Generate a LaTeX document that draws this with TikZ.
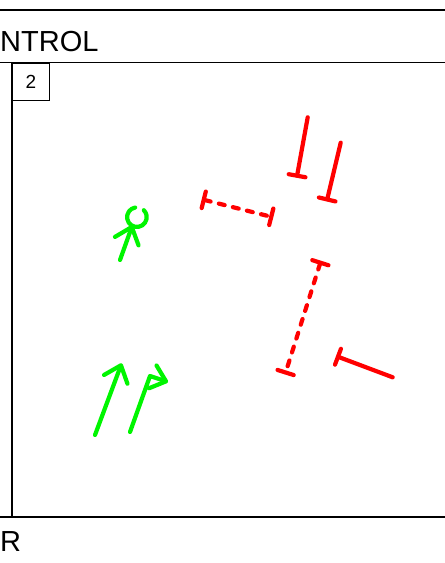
\documentclass[tikz,border=0pt]{standalone}
\usepackage{fontspec}
\setmainfont{Liberation Sans}
\usepackage{xcolor}
\usepackage{tikz}
\usetikzlibrary{arrows.meta}

\definecolor{verdeLapiz}{RGB}{0,245,0}
\definecolor{rojoLapiz}{RGB}{255,0,0}

\begin{document}
\begin{tikzpicture}[x=1pt, y=-1pt,
        marco/.style={line width=1.6pt, black},
        trazoverde/.style={verdeLapiz, line width=4.2pt, line cap=round, line join=round},
        trazorojo/.style={rojoLapiz, line width=4.2pt, line cap=round, line join=round}]
        \useasboundingbox (0,0) rectangle (445,563);
        \clip (0,0) rectangle (445,563);

        % Marco de la hoja
        \draw[marco] (0,10) -- (445,10);
        \draw[marco] (0,62.5) -- (445,62.5);
        \draw[marco] (0,516.7) -- (445,516.7);
        \draw[marco] (11.7,62.5) -- (11.7,516.7);
        \node[anchor=base west, inner sep=0, font=\fontsize{29}{34}\selectfont] (titulo) at (0,51.7) {NTROL};
        \node[anchor=base west, inner sep=0, font=\fontsize{29}{34}\selectfont] (pie) at (0,551.7) {R};
        \node[draw, line width=1.2pt, anchor=north west, inner sep=0, minimum width=37.3pt, minimum height=37.5pt,
              font=\fontsize{19}{22}\selectfont] (numero) at (11.7,62.5) {2};

        % Flechas verdes
        \draw[trazoverde, -{Straight Barb[length=15pt, width=25pt, round]}] (120,260) -- (132.5,225);
        \draw[trazoverde] (135.2,207.5) arc[start angle=100, end angle=405, radius=9.8pt];
        \draw[trazoverde, -{Straight Barb[length=15pt, width=25pt, round]}] (95,435) -- (121.7,363.3);
        \draw[trazoverde, -{Straight Barb[length=14pt, width=24pt, round]}] (130,432) -- (150,376) -- (168,382);

        % Trazos rojos con tope
        \foreach \xa/\ya/\xb/\yb in {
            307.7/117.3/296.7/177.8,
            340.7/142.7/326.7/201.5,
            392.7/377.3/336/356
        } {
            \draw[trazorojo, -{Bar[width=17pt, round]}] (\xa,\ya) -- (\xb,\yb);
        }

        % Trazos rojos discontinuos
        \foreach \xa/\ya/\xb/\yb in {
            201.7/199.3/273.3/217.3,
            321/260.7/285/374.5
        } {
            \draw[trazorojo, dash pattern=on 6pt off 8.5pt,
                  {Bar[width=17pt, round]}-{Bar[width=17pt, round]}] (\xa,\ya) -- (\xb,\yb);
        }

    \end{tikzpicture}
\end{document}
